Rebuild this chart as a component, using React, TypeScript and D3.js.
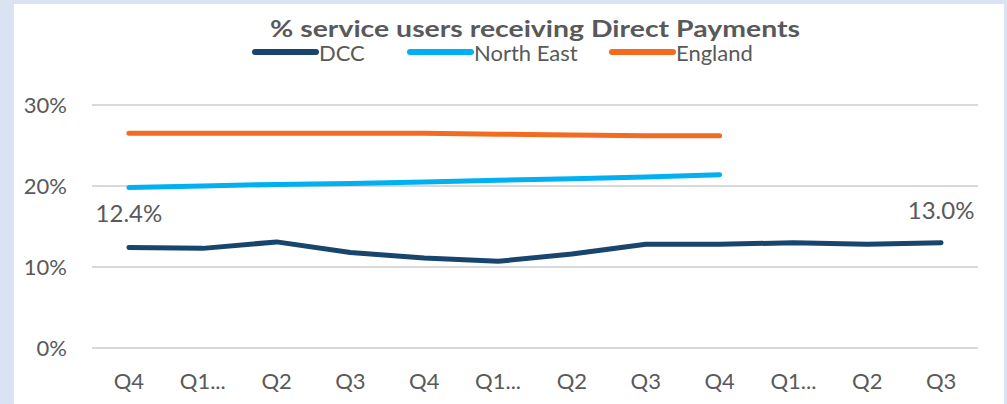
import React from "react";
import * as d3 from "d3";

const categories = ["Q4", "Q1...", "Q2", "Q3", "Q4", "Q1...", "Q2", "Q3", "Q4", "Q1...", "Q2", "Q3"];
const dcc = [12.4, 12.3, 13.1, 11.8, 11.1, 10.7, 11.6, 12.8, 12.8, 13.0, 12.8, 13.0];
const northEast = [19.8, 20.0, 20.2, 20.3, 20.5, 20.7, 20.9, 21.1, 21.4];
const england = [26.5, 26.5, 26.5, 26.5, 26.5, 26.4, 26.3, 26.2, 26.2];
const yTicks = [0, 10, 20, 30];
const seriesNames = ["DCC", "North East", "England"];
const colors = ["#17456e", "#00b0f0", "#f26b21"];

const W = 1007, H = 404;
const FONT = "Lato, 'Open Sans', sans-serif";

export default function App() {
  const x = d3.scaleBand<number>().domain(d3.range(categories.length)).range([92, 978]);
  const cx = (i: number) => (x(i) as number) + x.bandwidth() / 2;
  const y = d3.scaleLinear().domain([0, 30]).range([348, 105]);
  const line = d3.line<number>().x((_, i) => cx(i)).y((d) => y(d));
  const series = [dcc, northEast, england];
  const legendX = [255, 410, 612];

  return (
    <svg width={W} height={H} style={{ position: "absolute", left: 0, top: 0 }}>
      <rect x={0} y={0} width={W} height={H} fill="#dae3f3" />
      <rect x={14} y={4} width={990} height={400} fill="#ffffff" />
      <text x={270} y={37} textLength={530} lengthAdjust="spacingAndGlyphs" fontFamily={FONT} fontWeight="bold" fontSize={23} fill="#595959">
        % service users receiving Direct Payments
      </text>
      {seriesNames.map((n, i) => (
        <g key={n}>
          <line x1={legendX[i]} x2={legendX[i] + 61} y1={52} y2={52} stroke={colors[i]} strokeWidth={6} strokeLinecap="round" />
          <text x={legendX[i] + 64} y={61} fontFamily={FONT} fontSize={22} fill="#595959">{n}</text>
        </g>
      ))}
      {yTicks.map((t) => (
        <g key={t}>
          <line x1={92} x2={978} y1={y(t)} y2={y(t)} stroke="#d9d9d9" strokeWidth={2} />
          <text x={67} y={y(t) + 8} textAnchor="end" fontFamily={FONT} fontSize={22} fill="#595959">{t}%</text>
        </g>
      ))}
      {categories.map((c, i) => (
        <text key={i} x={cx(i)} y={389} textAnchor="middle" fontFamily={FONT} fontSize={22} fill="#595959">{c}</text>
      ))}
      {series.map((s, i) => (
        <path key={i} d={line(s) || ""} fill="none" stroke={colors[i]} strokeWidth={5} strokeLinecap="round" strokeLinejoin="round" />
      ))}
      <text x={cx(0)} y={222} textAnchor="middle" fontFamily={FONT} fontSize={24} fill="#595959">{dcc[0].toFixed(1)}%</text>
      <text x={cx(dcc.length - 1)} y={219} textAnchor="middle" fontFamily={FONT} fontSize={24} fill="#595959">{dcc[dcc.length - 1].toFixed(1)}%</text>
    </svg>
  );
}
